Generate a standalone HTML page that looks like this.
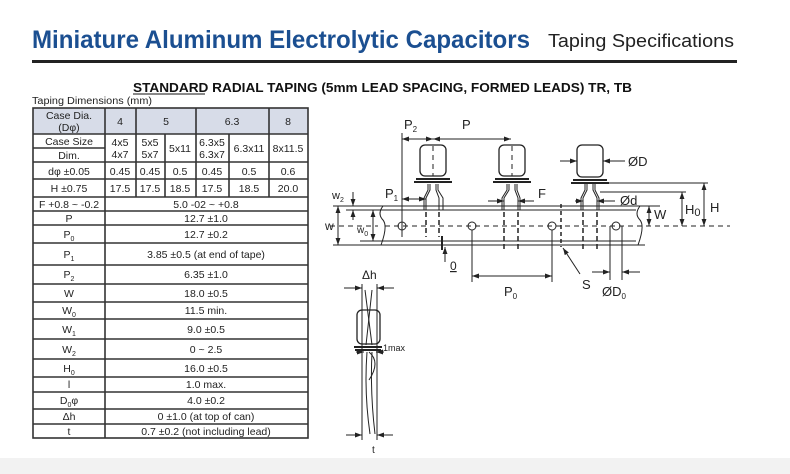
<!DOCTYPE html>
<html><head><meta charset="utf-8"><style>
html,body{margin:0;padding:0;background:#fff}
svg{display:block}
text{font-family:"Liberation Sans",sans-serif}
</style></head><body>
<svg width="790" height="474" viewBox="0 0 790 474" xmlns="http://www.w3.org/2000/svg">
<defs>
<marker id="a" viewBox="0 0 10 10" refX="10" refY="5" markerWidth="7" markerHeight="7" orient="auto-start-reverse"><path d="M0,1.5 L10,5 L0,8.5 z" fill="#222"/></marker>
</defs>
<rect x="0" y="458" width="790" height="16" fill="#f2f2f2"/>
<text x="32" y="48" font-size="25" font-weight="bold" fill="#1b4f91" textLength="498" lengthAdjust="spacingAndGlyphs">Miniature Aluminum Electrolytic Capacitors</text>
<text x="548" y="47" font-size="18" fill="#222" textLength="186" lengthAdjust="spacingAndGlyphs">Taping Specifications</text>
<rect x="32" y="60" width="705" height="3" fill="#222"/>
<text x="133" y="92" font-size="12.5" font-weight="bold" fill="#111" textLength="499" lengthAdjust="spacingAndGlyphs">STANDARD RADIAL TAPING (5mm LEAD SPACING, FORMED LEADS) TR, TB</text>
<line x1="133" y1="94" x2="205" y2="94" stroke="#111" stroke-width="1"/>
<text x="32" y="104" font-size="10" fill="#222" textLength="120" lengthAdjust="spacingAndGlyphs">Taping Dimensions (mm)</text>

<!-- table -->
<g font-size="10.5" fill="#222" text-anchor="middle">
<rect x="33" y="108" width="275" height="26" fill="#d7dce8"/>
<g stroke="#333" stroke-width="1.6" fill="none">
<rect x="33" y="108" width="275" height="330"/>
<line x1="33" y1="134" x2="308" y2="134"/>
<line x1="33" y1="148" x2="105" y2="148"/>
<line x1="33" y1="162" x2="308" y2="162"/>
<line x1="33" y1="179" x2="308" y2="179"/>
<line x1="33" y1="197" x2="308" y2="197"/>
<line x1="33" y1="211" x2="308" y2="211"/>
<line x1="33" y1="225" x2="308" y2="225"/>
<line x1="33" y1="243" x2="308" y2="243"/>
<line x1="33" y1="265" x2="308" y2="265"/>
<line x1="33" y1="284" x2="308" y2="284"/>
<line x1="33" y1="302" x2="308" y2="302"/>
<line x1="33" y1="319" x2="308" y2="319"/>
<line x1="33" y1="339" x2="308" y2="339"/>
<line x1="33" y1="359" x2="308" y2="359"/>
<line x1="33" y1="377" x2="308" y2="377"/>
<line x1="33" y1="392" x2="308" y2="392"/>
<line x1="33" y1="409" x2="308" y2="409"/>
<line x1="33" y1="424" x2="308" y2="424"/>
<line x1="105" y1="108" x2="105" y2="438"/>
<line x1="136" y1="108" x2="136" y2="197"/>
<line x1="196" y1="108" x2="196" y2="197"/>
<line x1="269" y1="108" x2="269" y2="197"/>
<line x1="165" y1="134" x2="165" y2="197"/>
<line x1="229" y1="134" x2="229" y2="197"/>
</g>
<text x="69" y="119">Case Dia.</text><text x="69" y="131">(Dφ)</text>
<text x="120" y="125">4</text><text x="166" y="125">5</text><text x="232" y="125">6.3</text><text x="288" y="125">8</text>
<text x="69" y="145">Case Size</text><text x="69" y="159">Dim.</text>
<text x="120" y="146">4x5</text><text x="120" y="158">4x7</text>
<text x="150" y="146">5x5</text><text x="150" y="158">5x7</text>
<text x="180" y="152">5x11</text>
<text x="212" y="146">6.3x5</text><text x="212" y="158">6.3x7</text>
<text x="249" y="152">6.3x11</text><text x="288" y="152">8x11.5</text>
<text x="69" y="175">dφ ±0.05</text>
<text x="120" y="175">0.45</text><text x="150" y="175">0.45</text><text x="180" y="175">0.5</text><text x="212" y="175">0.45</text><text x="249" y="175">0.5</text><text x="288" y="175">0.6</text>
<text x="69" y="192">H ±0.75</text>
<text x="120" y="192">17.5</text><text x="150" y="192">17.5</text><text x="180" y="192">18.5</text><text x="212" y="192">17.5</text><text x="249" y="192">18.5</text><text x="288" y="192">20.0</text>
<text x="69" y="208">F +0.8 ~ -0.2</text><text x="206" y="208">5.0 -02 ~ +0.8</text>
<text x="69" y="222">P</text><text x="206" y="222">12.7 ±1.0</text>
<text x="69" y="238">P<tspan font-size="7" dy="3">0</tspan></text><text x="206" y="238">12.7 ±0.2</text>
<text x="69" y="258">P<tspan font-size="7" dy="3">1</tspan></text><text x="206" y="258">3.85 ±0.5 (at end of tape)</text>
<text x="69" y="278">P<tspan font-size="7" dy="3">2</tspan></text><text x="206" y="278">6.35 ±1.0</text>
<text x="69" y="297">W</text><text x="206" y="297">18.0 ±0.5</text>
<text x="69" y="314">W<tspan font-size="7" dy="3">0</tspan></text><text x="206" y="314">11.5 min.</text>
<text x="69" y="333">W<tspan font-size="7" dy="3">1</tspan></text><text x="206" y="333">9.0 ±0.5</text>
<text x="69" y="353">W<tspan font-size="7" dy="3">2</tspan></text><text x="206" y="353">0 ~ 2.5</text>
<text x="69" y="372">H<tspan font-size="7" dy="3">0</tspan></text><text x="206" y="372">16.0 ±0.5</text>
<text x="69" y="388">l</text><text x="206" y="388">1.0 max.</text>
<text x="69" y="404">D<tspan font-size="7" dy="3">0</tspan><tspan dy="-3">φ</tspan></text><text x="206" y="404">4.0 ±0.2</text>
<text x="69" y="420">Δh</text><text x="206" y="420">0 ±1.0 (at top of can)</text>
<text x="69" y="435">t</text><text x="206" y="435">0.7 ±0.2 (not including lead)</text>
</g>

<!-- tape diagram -->
<g stroke="#222" stroke-width="1" fill="none">
<line x1="333" y1="206" x2="640" y2="206"/>
<line x1="346" y1="210" x2="636" y2="210"/>
<line x1="360" y1="241" x2="636" y2="241"/>
<line x1="333" y1="245" x2="645" y2="245"/>
<path d="M383,206 q-6,8 0,14 q5,6 -2,25"/>
<path d="M640,206 q-6,8 0,14 q5,6 -2,25"/>
<line x1="385" y1="226" x2="730" y2="226" stroke-dasharray="5,4"/>
<line x1="330" y1="226" x2="378" y2="226" stroke-dasharray="5,4"/>
<circle cx="402" cy="226" r="4"/><circle cx="472" cy="226" r="4"/><circle cx="552" cy="226" r="4"/><circle cx="616" cy="226" r="4"/>
<line x1="561" y1="204" x2="561" y2="247" stroke-dasharray="4,3" stroke-width="1.5"/>
<!-- caps -->
<rect x="420" y="145" width="26" height="31" rx="5" stroke-width="1.3"/>
<rect x="499" y="145" width="26" height="31" rx="5" stroke-width="1.3"/>
<rect x="577" y="145" width="26" height="32" rx="5" stroke-width="1.3"/>
<path d="M416,179 h34 M414,182 h38 M495,179 h34 M493,182 h38 M573,180 h34 M571,183 h38" stroke-width="2"/>
<line x1="433" y1="146" x2="433" y2="176" stroke-dasharray="5,4"/>
<line x1="512" y1="146" x2="512" y2="176" stroke-dasharray="5,4"/>
<path d="M430,184 v6 l-4,8 v12 M436,184 v6 l3,8 v12 M428,184 v6 l-4,8 v12 M438,184 v6 l5,8 v12"/>
<path d="M509,184 v6 l-5,8 v12 M515,184 v6 l3,8 v12 M507,184 v6 l-5,8 v12 M517,184 v6 l3,8 v12"/>
<path d="M587,184 v6 l-4,8 v12 M593,184 v6 l4,8 v12 M585,184 v6 l-4,8 v12 M595,184 v6 l4,8 v12"/>
<g stroke-dasharray="5,3" stroke-width="1.5">
<line x1="426" y1="212" x2="426" y2="237"/><line x1="439" y1="212" x2="439" y2="237"/>
<line x1="504" y1="212" x2="504" y2="250"/><line x1="518" y1="212" x2="518" y2="250"/>
<line x1="583" y1="212" x2="583" y2="250"/><line x1="597" y1="212" x2="597" y2="250"/>
</g>
<line x1="442" y1="236" x2="442" y2="250" stroke-width="2"/>
<!-- dims -->
<line x1="402" y1="133" x2="402" y2="237"/>
<line x1="402" y1="139" x2="433" y2="139" marker-start="url(#a)" marker-end="url(#a)"/>
<line x1="433" y1="139" x2="511" y2="139" marker-start="url(#a)" marker-end="url(#a)"/>
<line x1="560" y1="161" x2="577" y2="161" marker-end="url(#a)"/>
<line x1="625" y1="161" x2="603" y2="161" marker-end="url(#a)"/>
<line x1="600" y1="183" x2="708" y2="183"/>
<line x1="600" y1="192" x2="686" y2="192"/>
<line x1="704" y1="183" x2="704" y2="226" marker-start="url(#a)" marker-end="url(#a)"/>
<line x1="682" y1="192" x2="682" y2="226" marker-start="url(#a)" marker-end="url(#a)"/>
<line x1="640" y1="206" x2="660" y2="206"/>
<line x1="649" y1="206" x2="649" y2="226" marker-start="url(#a)" marker-end="url(#a)"/>
<line x1="575" y1="201" x2="583" y2="201" marker-end="url(#a)"/>
<line x1="615" y1="201" x2="597" y2="201" marker-end="url(#a)"/>
<line x1="488" y1="201" x2="504" y2="201" marker-end="url(#a)"/>
<line x1="534" y1="201" x2="518" y2="201" marker-end="url(#a)"/>
<line x1="402" y1="199" x2="426" y2="199" marker-start="url(#a)" marker-end="url(#a)"/>
<line x1="338" y1="206" x2="338" y2="245" marker-start="url(#a)" marker-end="url(#a)"/>
<line x1="373" y1="210" x2="373" y2="241" marker-start="url(#a)" marker-end="url(#a)"/>
<line x1="353" y1="192" x2="353" y2="206" marker-end="url(#a)"/>
<line x1="353" y1="220" x2="353" y2="210" marker-end="url(#a)"/>
<line x1="445" y1="262" x2="445" y2="247" marker-end="url(#a)"/>
<line x1="472" y1="230" x2="472" y2="282"/><line x1="552" y1="230" x2="552" y2="282"/>
<line x1="472" y1="276" x2="552" y2="276" marker-start="url(#a)" marker-end="url(#a)"/>
<line x1="580" y1="274" x2="563" y2="248" marker-end="url(#a)"/>
<line x1="610" y1="226" x2="610" y2="280"/><line x1="622" y1="226" x2="622" y2="280"/>
<line x1="592" y1="272" x2="610" y2="272" marker-end="url(#a)"/>
<line x1="640" y1="272" x2="622" y2="272" marker-end="url(#a)"/>
<!-- side view -->
<line x1="344" y1="288" x2="362" y2="288" marker-end="url(#a)"/>
<line x1="394" y1="288" x2="377" y2="288" marker-end="url(#a)"/>
<line x1="362" y1="284" x2="362" y2="440"/><line x1="377" y1="284" x2="377" y2="440"/>
<line x1="365" y1="290" x2="372" y2="345"/><line x1="372" y1="290" x2="366" y2="345"/>
<rect x="357" y="310" width="23" height="34" rx="5" stroke-width="1.3"/>
<path d="M354,347 h28 M355,350 h26" stroke-width="2"/>
<path d="M369,352 q12,10 0,28"/>
<path d="M367,352 q-3,40 3,82 M372,352 q-2,40 3,82"/>
<line x1="356" y1="352" x2="364" y2="352" marker-end="url(#a)"/>
<line x1="384" y1="352" x2="376" y2="352" marker-end="url(#a)"/>
<line x1="346" y1="435" x2="362" y2="435" marker-end="url(#a)"/>
<line x1="393" y1="435" x2="377" y2="435" marker-end="url(#a)"/>
</g>
<g font-size="13" fill="#222">
<text x="404" y="129">P<tspan font-size="8" dy="3">2</tspan></text>
<text x="462" y="129">P</text>
<text x="628" y="166">ØD</text>
<text x="710" y="212">H</text>
<text x="685" y="214">H<tspan font-size="11" dy="2">0</tspan></text>
<text x="654" y="219">W</text>
<text x="620" y="205">Ød</text>
<text x="538" y="198">F</text>
<text x="385" y="198">P<tspan font-size="8" dy="3">1</tspan></text>
<text x="332" y="199" font-size="11">w<tspan font-size="7" dy="3">2</tspan></text>
<text x="325" y="230" font-size="12">w</text>
<text x="357" y="233" font-size="10">w<tspan font-size="7" dy="3">0</tspan></text>
<text x="450" y="270" font-size="12" text-decoration="underline">0</text>
<text x="504" y="296">P<tspan font-size="8" dy="3">0</tspan></text>
<text x="582" y="289">S</text>
<text x="602" y="296">ØD<tspan font-size="8" dy="3">0</tspan></text>
<text x="362" y="279" font-size="12">Δh</text>
<text x="383" y="351" font-size="9">1max</text>
<text x="372" y="453" font-size="10">t</text>
</g>
</svg>
</body></html>
